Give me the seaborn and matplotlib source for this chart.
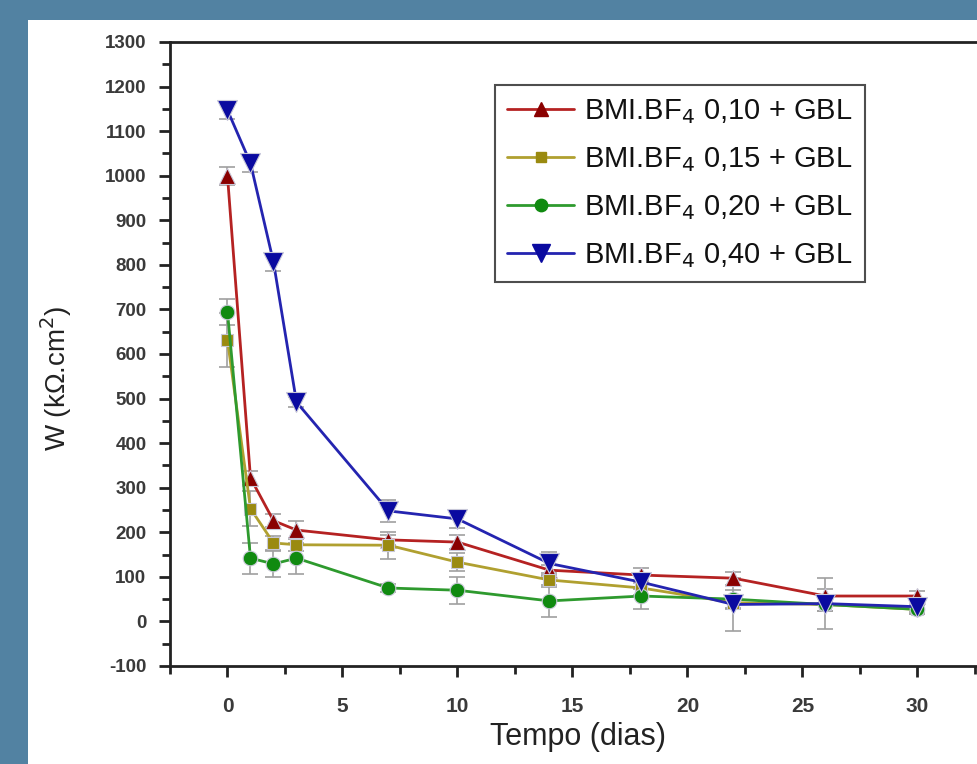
import matplotlib
matplotlib.use("Agg")
import matplotlib.pyplot as plt
import seaborn as sns
import pandas as pd
import numpy as np
from matplotlib.patches import Rectangle
from matplotlib.lines import Line2D

sns.set_style("ticks")
plt.rcParams['font.family'] = ['Liberation Sans', 'DejaVu Sans']
plt.rcParams['axes.unicode_minus'] = False

days = [0, 1, 2, 3, 7, 10, 14, 18, 22, 26, 30]
labels = ["BMI.BF$_4$ 0,10 + GBL", "BMI.BF$_4$ 0,15 + GBL",
          "BMI.BF$_4$ 0,20 + GBL", "BMI.BF$_4$ 0,40 + GBL"]
w_010 = [999, 322, 226, 205, 183, 178, 115, 104, 97, 57, 57]
w_015 = [631, 253, 176, 172, 171, 133, 93, 75, 42, 38, 27]
w_020 = [694, 142, 129, 142, 75, 70, 46, 57, 50, 38, 27]
w_040 = [1147, 1028, 806, 492, 248, 230, 130, 88, 38, 40, 33]
e_010 = [20, 15, 15, 20, 12, 15, 12, 15, 15, 15, 12]
e_015 = [60, 40, 15, 15, 30, 20, 15, 15, 15, 15, 10]
e_020 = [30, 35, 30, 35, 10, 30, 35, 30, 20, 15, 10]
e_040 = [20, 20, 20, 12, 25, 20, 25, 15, 60, 58, 12]

series = [w_010, w_015, w_020, w_040]
errors = [e_010, e_015, e_020, e_040]
line_colors = ["#b52222", "#b0a030", "#2e9a2e", "#2424b0"]
mk_colors = ["#8a0000", "#9a8a10", "#108a10", "#0a0aa0"]
markers = ["^", "s", "o", "v"]
msizes = [12, 9, 10.5, 15]

df = pd.DataFrame({
    "day": days * 4,
    "W": sum(series, []),
    "serie": sum([[l] * len(days) for l in labels], []),
})

fig = plt.figure(figsize=(9.78, 7.64), dpi=100)
fig.patch.set_facecolor("#5282a2")
fig.patches.append(Rectangle((28 / 978, 0), 1 - 28 / 978, (764 - 20) / 764,
                             transform=fig.transFigure, facecolor="white",
                             edgecolor="none", zorder=-10))

ax = fig.add_axes([170 / 978, 1 - 666 / 764, (816.5) / 978, (666 - 42) / 764])
ax.set_zorder(1)
ax.set_facecolor("white")

for i, lab in enumerate(labels):
    sub = df[df["serie"] == lab]
    ax.errorbar(days, series[i], yerr=errors[i], fmt="none", ecolor="#a0a0a0",
                elinewidth=1.2, capsize=6, capthick=1.2, zorder=2)
    sns.lineplot(data=sub, x="day", y="W", ax=ax, color=line_colors[i],
                 linewidth=2, marker=markers[i], markersize=msizes[i],
                 markerfacecolor=mk_colors[i], markeredgecolor="#c8c8d8",
                 markeredgewidth=0.8, legend=False, zorder=3)

ax.set_xlim(-2.5, 33)
ax.set_ylim(-100, 1300)
ax.set_xticks(np.arange(0, 31, 5))
ax.set_xticks(np.arange(-2.5, 33, 2.5), minor=True)
ax.set_yticks(np.arange(-100, 1301, 100))
ax.set_yticks(np.arange(-100, 1300, 50), minor=True)
ax.tick_params(axis="both", which="major", direction="out", length=8, width=2,
               colors="#222222", labelcolor="#3a3a3a")
ax.tick_params(axis="both", which="minor", direction="out", length=6, width=2,
               colors="#222222")
ax.tick_params(axis="y", labelsize=13.5, pad=9)
ax.tick_params(axis="x", labelsize=15, pad=14)
for lbl in ax.get_yticklabels() + ax.get_xticklabels():
    lbl.set_fontweight("bold")
for s in ax.spines.values():
    s.set_linewidth(2)
    s.set_color("#222222")

ax.set_xlabel("Tempo (dias)", fontsize=22, color="#222222")
ax.xaxis.set_label_coords((578 - 170) / 816.5, (666 - 722) / 624)
ax.set_ylabel("W (k\u03a9.cm$^2$)", fontsize=20, color="#222222")
ax.yaxis.set_label_coords((74 - 170) / 816.5, (666 - 378) / 624)

handles = [Line2D([0], [0], color=line_colors[i], lw=2, marker=markers[i],
                  markersize=msizes[i] * 0.85, markerfacecolor=mk_colors[i],
                  markeredgecolor=mk_colors[i]) for i in range(4)]
leg = ax.legend(handles, labels, loc="upper left",
                bbox_to_anchor=(495 / 978, 1 - 85 / 764),
                bbox_transform=fig.transFigure, borderaxespad=0,
                fontsize=21, frameon=True,
                fancybox=False, handlelength=2.3, handletextpad=0.33,
                labelspacing=0.66, borderpad=0.42, markerscale=1.0)
leg.get_frame().set_edgecolor("#222222")
leg.get_frame().set_linewidth(1.5)
for t in leg.get_texts():
    t.set_color("#111111")

fig.savefig("out.png", dpi=100, facecolor=fig.get_facecolor())
